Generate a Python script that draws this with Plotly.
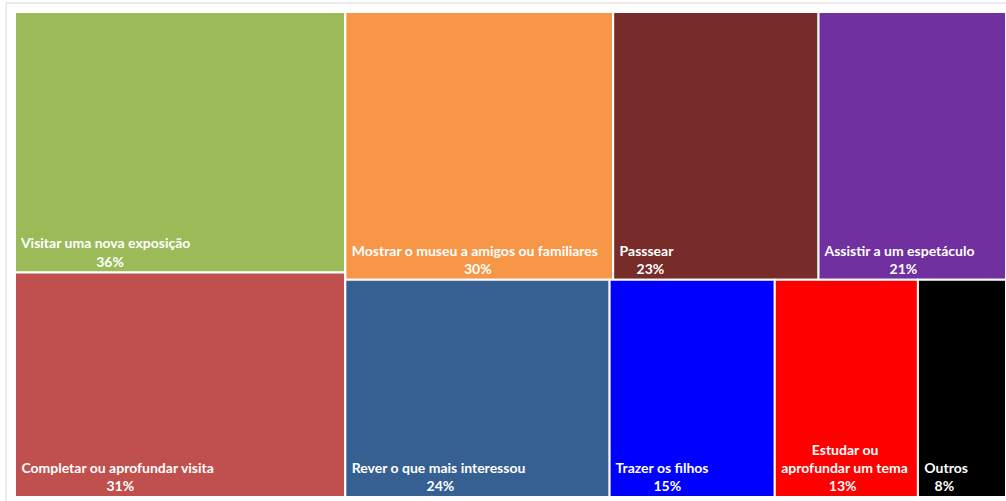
import plotly.graph_objects as go

# Data
categories = ["Visitar uma nova exposição", "Completar ou aprofundar visita",
              "Mostrar o museu a amigos ou familiares", "Passsear", "Assistir a um espetáculo",
              "Rever o que mais interessou", "Trazer os filhos", "Estudar ou<br>aprofundar um tema", "Outros"]
values = [36, 31, 30, 23, 21, 24, 15, 13, 8]
colors = ["#9BBB59", "#C0504D", "#F79646", "#772C2A", "#7030A0",
          "#376092", "#0000FF", "#FF0000", "#000000"]
# layout groups (Excel-like arrangement): column 1, then remaining block split in top / bottom rows
groups = ["col1", "col1", "top", "top", "top", "bottom", "bottom", "bottom", "bottom"]

NB = "\u00a0"
def text_w(s):
    w = 0.0
    for ch in s:
        if ch.isdigit():
            w += 8.1
        elif ch == "%":
            w += 11.5
        elif ch == " ":
            w += 2.9
        elif ch in "iljtfr":
            w += 4.6
        elif ch in "mw":
            w += 11.5
        else:
            w += 7.6
    return w

def centered_block(label, pct):
    lines = label.split("<br>") + ["%d%%" % pct]
    wmax = max(text_w(l) for l in lines)
    out = []
    for l in lines:
        n = int(round((wmax - text_w(l)) / 2 / 3.3))
        out.append(NB * (1 + n) + l)
    return "<b>" + "<br>".join(out) + "</b>"

ids = ["root", "col1", "rest", "top", "bottom"]
parents = ["", "root", "root", "rest", "rest"]
labels = ["", "", "", "", ""]
vals = [0, 0, 0, 0, 0]
cols = ["white"] * 5
texts = ["", "", "", "", ""]
for i, c in enumerate(categories):
    ids.append("leaf%d" % i)
    parents.append(groups[i])
    labels.append(c)
    vals.append(values[i])
    cols.append(colors[i])
    texts.append(centered_block(c, values[i]))

fig = go.Figure(go.Treemap(
    ids=ids, parents=parents, labels=labels, values=vals,
    branchvalues="remainder", sort=False,
    text=texts, textinfo="text", textposition="bottom left",
    marker=dict(colors=cols, line=dict(color="white", width=2),
                pad=dict(t=0, l=0, r=0, b=0)),
    tiling=dict(packing="slice-dice", pad=0),
    pathbar=dict(visible=False),
    textfont=dict(family="Lato", size=14, color="white"),
    hoverinfo="skip",
))

W, H = 1006, 501
ml, mt, mr, mb = 15, 12, 0, 4
pw, ph = W - ml - mr, H - mt - mb
def px(x): return (x - ml) / pw
def py(y): return 1 - (y - mt) / ph

fig.update_layout(
    width=W, height=H,
    margin=dict(l=ml, r=mr, t=mt, b=mb),
    paper_bgcolor="white",
    uniformtext=dict(minsize=8),
    shapes=[dict(type="rect", xref="paper", yref="paper",
                 x0=px(6), x1=px(1020), y0=py(3), y1=py(520),
                 line=dict(color="#D9D9D9", width=1), layer="below")],
)
fig.write_html("out.html")
